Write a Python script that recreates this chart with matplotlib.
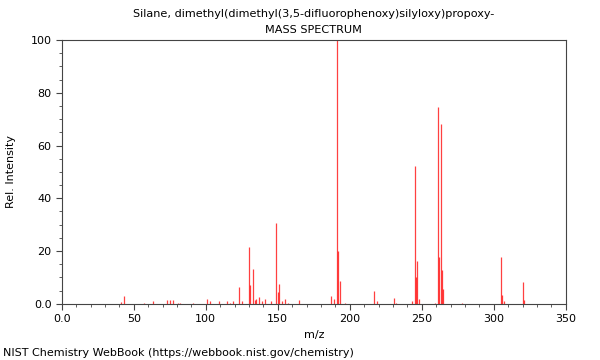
import matplotlib
matplotlib.use("Agg")
import matplotlib.pyplot as plt
from matplotlib.ticker import MultipleLocator, FuncFormatter

title_line1 = "Silane, dimethyl(dimethyl(3,5-difluorophenoxy)silyloxy)propoxy-"
title_line2 = "MASS SPECTRUM"
footer = "NIST Chemistry WebBook (https://webbook.nist.gov/chemistry)"

mz = [41, 43, 57, 63, 73, 75, 77, 81, 82, 91, 101, 103, 109, 115, 117, 119,
      123, 125, 130, 131, 133, 134, 135, 137, 139, 141, 145, 149, 150, 151,
      153, 155, 157, 165, 187, 189, 191, 192, 193, 197, 217, 219, 231, 232,
      243, 245, 246, 247, 248, 259, 261, 262, 263, 264, 265, 278, 305, 306,
      307, 320, 321]
intensity = [0.8, 3.0, 0.5, 1.0, 1.5, 1.5, 1.5, 0.5, 0.5, 0.5, 1.9, 1.0, 1.0, 1.0, 0.5, 1.0,
             6.4, 1.0, 21.7, 7.2, 13.3, 1.5, 2.0, 2.5, 1.0, 2.0, 1.0, 30.5, 4.3, 7.6,
             1.0, 2.0, 0.5, 1.5, 2.9, 2.0, 100.0, 20.2, 8.7, 0.5, 5.0, 1.1, 2.3, 0.5,
             1.0, 52.4, 10.0, 16.4, 2.0, 0.5, 74.7, 17.7, 68.2, 12.9, 5.6, 0.5, 17.8, 3.4,
             1.0, 8.2, 1.5]

fig = plt.figure(figsize=(6, 3.6), dpi=100)
ax = fig.add_axes([0.103, 0.156, 0.840, 0.733])
ax.vlines(mz, 0, intensity, colors="red", linewidth=0.9, alpha=0.75)
ax.set_xlim(0, 350)
ax.set_ylim(0, 100)
ax.xaxis.set_major_locator(MultipleLocator(50))
ax.xaxis.set_minor_locator(MultipleLocator(10))
ax.yaxis.set_major_locator(MultipleLocator(20))
ax.yaxis.set_minor_locator(MultipleLocator(5))
fmt = FuncFormatter(lambda v, p: "0.0" if v == 0 else f"{int(v)}")
ax.xaxis.set_major_formatter(fmt)
ax.yaxis.set_major_formatter(fmt)
ax.tick_params(axis="both", which="major", labelsize=8, length=4, direction="out", color="#444444")
ax.tick_params(axis="both", which="minor", length=2, direction="out", color="#444444")
for s in ax.spines.values():
    s.set_color("#444444")
    s.set_linewidth(0.8)
ax.set_xlabel("m/z", fontsize=8)
ax.set_ylabel("Rel. Intensity", fontsize=8, labelpad=10)
fig.text(0.523, 0.962, title_line1, ha="center", va="center", fontsize=8.1)
fig.text(0.523, 0.917, title_line2, ha="center", va="center", fontsize=8.1)
fig.text(0.005, 0.02, footer, ha="left", va="center", fontsize=8)
fig.savefig("out.png", dpi=100)
